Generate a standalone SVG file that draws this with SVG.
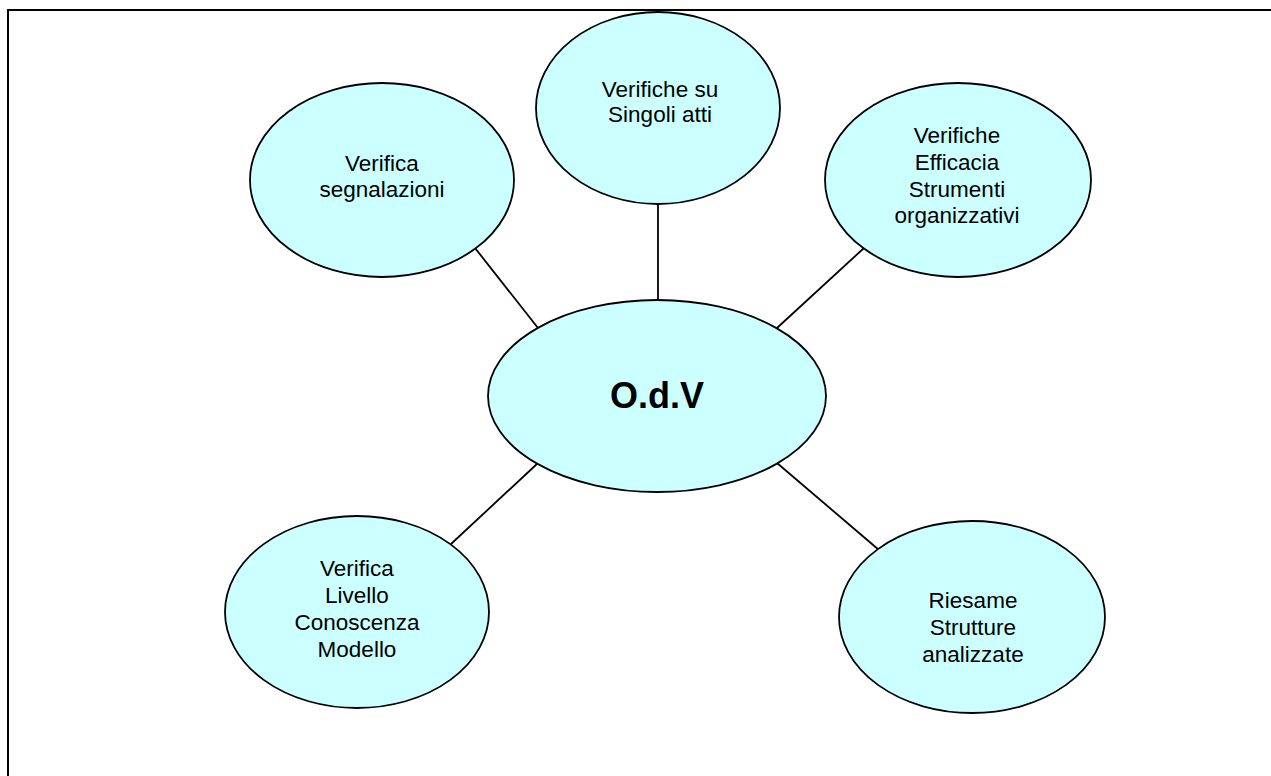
<svg xmlns="http://www.w3.org/2000/svg" width="1271" height="776" viewBox="0 0 1271 776">
<style>
.bubble{fill:#CCFFFF;stroke:#000;stroke-width:1.8}
.lbl{font-family:"Liberation Sans",Arial,sans-serif;font-size:22.5px;fill:#000;text-anchor:middle}
.main{font-family:"Liberation Sans",Arial,sans-serif;font-size:36px;font-weight:bold;fill:#000;text-anchor:middle}
.conn{stroke:#000;stroke-width:1.8;fill:none}
</style>
<rect x="0" y="0" width="1271" height="776" fill="#fff"/>
<rect x="8" y="10" width="1300" height="820" fill="none" stroke="#000" stroke-width="2"/>
<g id="connectors">
<line class="conn" x1="475" y1="248" x2="538" y2="328"/>
<line class="conn" x1="658" y1="204" x2="658" y2="300"/>
<line class="conn" x1="864" y1="248" x2="777" y2="328"/>
<line class="conn" x1="538" y1="463" x2="451" y2="544"/>
<line class="conn" x1="777" y1="463" x2="879" y2="550"/>
</g>
<g id="node-odv">
<ellipse class="bubble" cx="657" cy="396" rx="169" ry="96"/>
<text class="main" x="657" y="408">O.d.V</text>
</g>
<g id="node-singoli">
<ellipse class="bubble" cx="658" cy="108" rx="122" ry="96"/>
<text class="lbl" x="660" y="97">Verifiche su</text>
<text class="lbl" x="660" y="122">Singoli atti</text>
</g>
<g id="node-segnalazioni">
<ellipse class="bubble" cx="382" cy="180" rx="132" ry="97"/>
<text class="lbl" x="382" y="171">Verifica</text>
<text class="lbl" x="382" y="197">segnalazioni</text>
</g>
<g id="node-efficacia">
<ellipse class="bubble" cx="958" cy="180" rx="133" ry="97"/>
<text class="lbl" x="957" y="143">Verifiche</text>
<text class="lbl" x="957" y="170">Efficacia</text>
<text class="lbl" x="957" y="197">Strumenti</text>
<text class="lbl" x="957" y="223">organizzativi</text>
</g>
<g id="node-conoscenza">
<ellipse class="bubble" cx="357" cy="612" rx="132" ry="96"/>
<text class="lbl" x="357" y="576">Verifica</text>
<text class="lbl" x="357" y="603">Livello</text>
<text class="lbl" x="357" y="630">Conoscenza</text>
<text class="lbl" x="357" y="657">Modello</text>
</g>
<g id="node-riesame">
<ellipse class="bubble" cx="972" cy="617" rx="133" ry="96"/>
<text class="lbl" x="973" y="608">Riesame</text>
<text class="lbl" x="973" y="635">Strutture</text>
<text class="lbl" x="973" y="662">analizzate</text>
</g>
</svg>
